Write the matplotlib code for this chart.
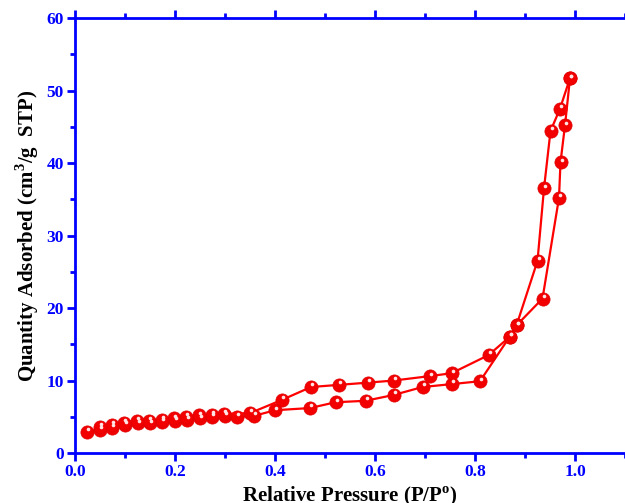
import matplotlib
matplotlib.use("Agg")
import matplotlib.pyplot as plt
import matplotlib.transforms as mtransforms
from matplotlib.ticker import MultipleLocator

plt.rcParams["mathtext.fontset"] = "custom"
plt.rcParams["mathtext.rm"] = "Liberation Serif:bold"
plt.rcParams["mathtext.bf"] = "Liberation Serif:bold"

# adsorption branch (lower loop)
ads_p = [0.023, 0.049, 0.073, 0.100, 0.125, 0.149, 0.174, 0.199, 0.223, 0.249,
         0.273, 0.299, 0.323, 0.357, 0.400, 0.470, 0.521, 0.581, 0.637, 0.695,
         0.753, 0.810, 0.869, 0.883, 0.925, 0.938, 0.951, 0.970, 0.990]
ads_q = [2.9, 3.2, 3.5, 3.9, 4.1, 4.1, 4.3, 4.4, 4.6, 4.8,
         5.0, 5.1, 5.0, 5.1, 5.9, 6.2, 7.0, 7.2, 8.0, 9.1,
         9.5, 9.9, 16.0, 17.6, 26.5, 36.5, 44.4, 47.5, 51.7]

# desorption branch (upper loop)
des_p = [0.990, 0.980, 0.971, 0.968, 0.935, 0.883, 0.869, 0.827, 0.753, 0.709,
         0.638, 0.585, 0.528, 0.472, 0.413, 0.350, 0.298, 0.273, 0.247, 0.222,
         0.198, 0.173, 0.148, 0.123, 0.098, 0.074, 0.050]
des_q = [51.7, 45.2, 40.1, 35.2, 21.3, 17.6, 16.0, 13.5, 11.0, 10.6,
         10.0, 9.7, 9.4, 9.1, 7.3, 5.5, 5.4, 5.3, 5.2, 5.0,
         4.8, 4.6, 4.4, 4.4, 4.2, 3.9, 3.6]

blue = "#0000ff"

fig = plt.figure(figsize=(6.25, 5.03), dpi=100)
ax = fig.add_axes([0.12, 0.0994, 0.88, 0.8648])

# sphere-like markers: red ball plus a small highlight
hl = mtransforms.offset_copy(ax.transData, fig=fig, x=1.0, y=1.9, units="points")
for p, q in [(ads_p, ads_q), (des_p, des_q)]:
    ax.plot(p, q, color="red", lw=1.6, marker="o", ms=9.5,
            mfc="#f20000", mec="#e00000", mew=0.5, zorder=3)
    ax.plot(p, q, ls="none", marker="o", ms=2.6, mfc="#ffe4e4", mec="none",
            transform=hl, zorder=4)

ax.set_xlim(0, 1.1)
ax.set_ylim(0, 60)
ax.xaxis.set_major_locator(MultipleLocator(0.2))
ax.xaxis.set_minor_locator(MultipleLocator(0.1))
ax.yaxis.set_major_locator(MultipleLocator(10))
ax.yaxis.set_minor_locator(MultipleLocator(5))
ax.xaxis.set_major_formatter(plt.FuncFormatter(lambda v, _: f"{v:.1f}"))

for side in ["left", "bottom", "top"]:
    ax.spines[side].set_color(blue)
    ax.spines[side].set_linewidth(2)
ax.spines["right"].set_visible(False)

ax.tick_params(which="both", direction="out", color=blue, width=2,
               top=True, right=False, pad=2)
ax.tick_params(which="major", length=6)
ax.tick_params(which="minor", length=3.5)
for lab in ax.get_xticklabels() + ax.get_yticklabels():
    lab.set_fontfamily("Liberation Serif")
    lab.set_fontweight("bold")
    lab.set_fontsize(12.5)
    lab.set_color(blue)

ax.set_xlabel("Relative Pressure (P/P$^{\\mathbf{o}}$)", fontfamily="Liberation Serif",
              fontweight="bold", fontsize=15, labelpad=3)
ax.set_ylabel("Quantity Adsorbed (cm$^{\\mathbf{3}}$/g  STP)", fontfamily="Liberation Serif",
              fontweight="bold", fontsize=15, labelpad=4)

fig.savefig("out.png", dpi=100)
